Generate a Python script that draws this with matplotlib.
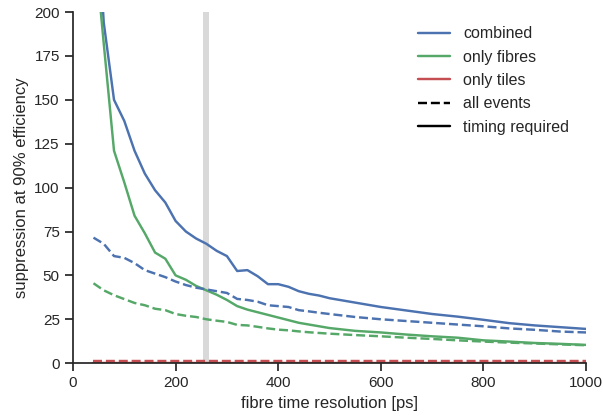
import numpy as np
import matplotlib
matplotlib.use("Agg")
import matplotlib.pyplot as plt
import seaborn as sns

sns.set_theme(context="notebook", style="ticks")
plt.rcParams['font.family'] = ['Liberation Sans', 'DejaVu Sans']

res = [40, 60, 80, 100, 120, 140, 160, 180, 200, 220, 240, 260, 280, 300,
       320, 340, 360, 380, 400, 420, 440, 460, 480, 500,
       550, 600, 650, 700, 750, 800, 850, 900, 950, 1000]

combined_timing = [290, 194, 150, 138, 121, 108, 98.5, 91.5, 81, 75, 71, 68, 64, 61,
                   52.5, 53, 49.5, 45, 45, 43.5, 41, 39.5, 38.5, 37,
                   34.5, 32, 30, 28, 26.5, 24.7, 22.8, 21.5, 20.5, 19.5]
combined_all = [71.5, 68, 61, 60, 57, 53, 51, 49, 46.5, 44.5, 43, 42, 41, 40,
                36.6, 36, 35, 33, 32.5, 32, 30.2, 29.5, 28.7, 28,
                26.3, 25, 24, 23, 22, 21, 19.8, 19, 18, 17.5]
fibres_timing = [245, 182, 121, 103, 84, 74, 63, 59.5, 50, 47.5, 44, 41.5, 39, 36,
                 32.5, 30.5, 29, 27.5, 26, 24.5, 23, 22, 21, 20,
                 18.4, 17.5, 16.3, 15.3, 14.5, 13, 12.3, 11.5, 11, 10.4]
fibres_all = [45.5, 41.5, 38.7, 36.5, 34.3, 33, 31, 30.2, 28, 27, 26.3, 25, 24.2, 23.5,
              21.8, 21.5, 20.7, 19.8, 19.1, 18.7, 18.1, 17.6, 17.2, 16.8,
              16, 15.3, 14.5, 13.8, 13, 12.3, 11.7, 11.2, 10.7, 10.2]
tiles_timing = [0.3] * len(res)
tiles_all = [1.2] * len(res)

blue, green, red = '#4C72B0', '#55A868', '#C44E52'

fig = plt.figure(figsize=(6.03, 4.16), dpi=100)
ax = fig.add_axes([0.121, 0.127, 0.851, 0.844])

ax.axvspan(253, 265, color='#d9d9d9', lw=0)

lw = 1.75
ax.plot(res, combined_timing, color=blue, lw=lw, label='combined')
ax.plot(res, fibres_timing, color=green, lw=lw, label='only fibres')
ax.plot(res, tiles_timing, color=red, lw=lw, label='only tiles', zorder=1)
ax.plot(res, combined_all, color=blue, lw=lw, ls='--')
ax.plot(res, fibres_all, color=green, lw=lw, ls='--')
ax.plot(res, tiles_all, color=red, lw=lw, ls='--')
ax.plot([], [], color='black', lw=lw, ls='--', label='all events')
ax.plot([], [], color='black', lw=lw, label='timing required')

ax.set_xlim(0, 1000)
ax.set_ylim(0, 200)
ax.set_xticks(np.arange(0, 1001, 200))
ax.set_yticks(np.arange(0, 201, 25))
ax.set_xlabel('fibre time resolution [ps]')
ax.set_ylabel('suppression at 90% efficiency')
ax.legend(loc='upper right', frameon=False, fontsize=11.5, labelspacing=0.52,
          bbox_to_anchor=(0.995, 1.0))
sns.despine(ax=ax)

fig.savefig('out.png', dpi=100)
